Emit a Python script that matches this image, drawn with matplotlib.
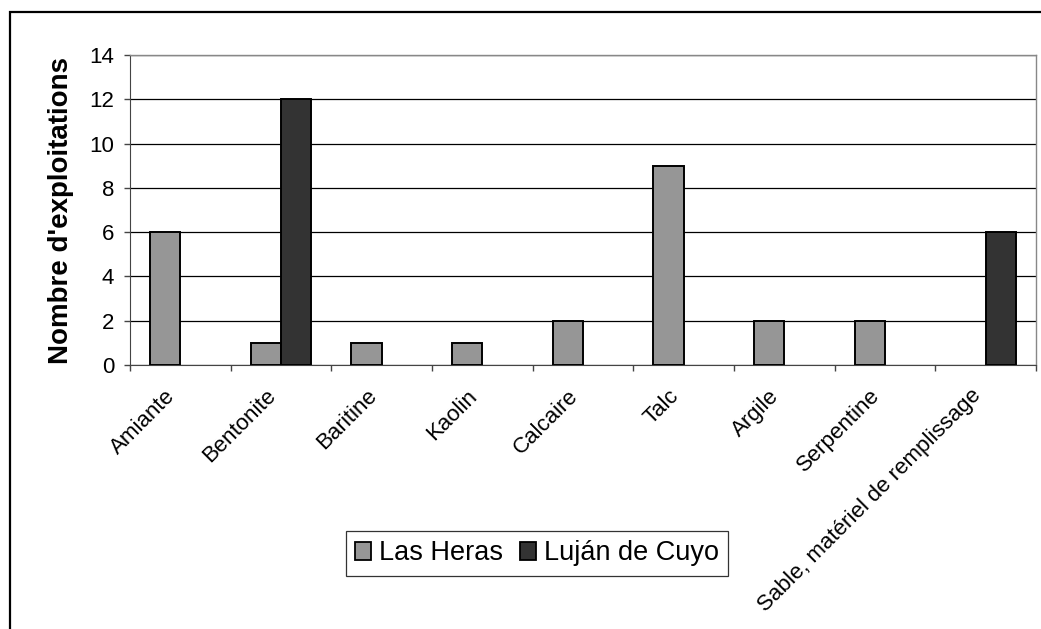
import numpy as np
import matplotlib
matplotlib.use("Agg")
import matplotlib.pyplot as plt
from matplotlib.patches import Rectangle

plt.rcParams['font.family'] = ['Liberation Sans', 'DejaVu Sans']

categories = ['Amiante', 'Bentonite', 'Baritine', 'Kaolin', 'Calcaire', 'Talc',
              'Argile', 'Serpentine', 'Sable, matériel de remplissage']
las_heras = [6, 1, 1, 1, 2, 9, 2, 2, 0]
lujan = [0, 12, 0, 0, 0, 0, 0, 0, 6]
series_names = ['Las Heras', 'Luján de Cuyo']
yticks = [0, 2, 4, 6, 8, 10, 12, 14]

fig = plt.figure(figsize=(10.41, 6.29), dpi=100)
ax = fig.add_axes([130 / 1041, 1 - 365 / 629, 906 / 1041, 310 / 629])

# outer chart border (runs off the right and bottom edges)
fig.patches.append(Rectangle((10 / 1041, -0.1), 1.2, 1 - 12 / 629 + 0.1,
                             transform=fig.transFigure, fill=False,
                             edgecolor='black', linewidth=1.6, zorder=0))

x = np.arange(len(categories))
w = 0.3
# empty bars get no outline, like Excel
ax.bar(x + 0.5 - w, las_heras, w, align='edge', color='#969696',
       edgecolor='black', linewidth=[1.4 if v else 0 for v in las_heras],
       label=series_names[0], zorder=3)
ax.bar(x + 0.5, lujan, w, align='edge', color='#333333',
       edgecolor='black', linewidth=[1.4 if v else 0 for v in lujan],
       label=series_names[1], zorder=3)

ax.set_xlim(0, len(categories))
ax.set_ylim(0, 14)
ax.set_yticks(yticks)
ax.set_yticklabels([str(v) for v in yticks], fontsize=16)
ax.yaxis.grid(True, color='black', linewidth=0.9)
ax.set_axisbelow(True)

# boundary ticks as major, labels on invisible minor ticks (a bit left of centre)
ax.set_xticks(np.arange(len(categories) + 1), minor=False)
ax.set_xticklabels([])
ax.set_xticks(x + 0.42, minor=True)
ax.set_xticklabels(categories, minor=True, rotation=45, ha='right', va='center',
                   rotation_mode='anchor', fontsize=16)
ax.tick_params(axis='x', which='minor', length=0, pad=20)
ax.tick_params(axis='x', which='major', length=4.5, color='#444444', width=1)
ax.tick_params(axis='y', length=4.5, color='#444444', width=1, pad=7)

for side in ['top', 'right']:
    ax.spines[side].set_color('#888888')
    ax.spines[side].set_linewidth(1)
ax.spines['left'].set_color('#444444')
ax.spines['bottom'].set_color('#444444')

ax.set_ylabel("Nombre d'exploitations", fontsize=20, fontweight='bold', labelpad=11)

leg = fig.legend(loc='center', bbox_to_anchor=(537 / 1041, 1 - 553.5 / 629),
                 ncol=2, fontsize=19.5, frameon=True, fancybox=False,
                 edgecolor='black', handlelength=0.6, handleheight=0.6,
                 handletextpad=0.3, columnspacing=0.6, borderpad=0.35,
                 borderaxespad=0)
leg.get_frame().set_linewidth(0.9)
for h in leg.legend_handles:
    h.set_linewidth(1.3)

fig.savefig('out.png', dpi=100)
